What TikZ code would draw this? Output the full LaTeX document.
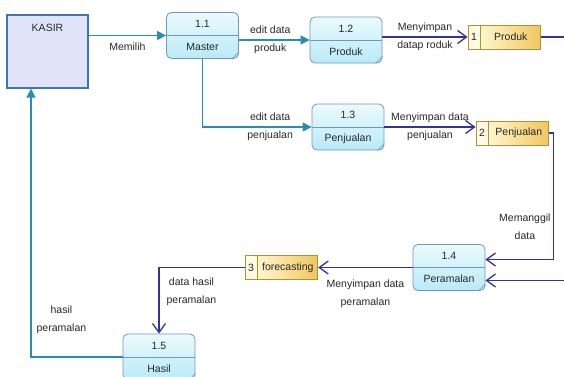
\documentclass[tikz,border=0pt]{standalone}
\usepackage{fontspec}
\setmainfont{Liberation Sans}
\usetikzlibrary{arrows.meta,positioning}

\definecolor{flowteal}{RGB}{40,140,180}
\definecolor{flownavy}{RGB}{50,50,160}
\definecolor{procline}{RGB}{115,150,190}
\definecolor{proctop}{RGB}{236,250,253}
\definecolor{procbot}{RGB}{184,234,248}
\definecolor{entfill}{RGB}{225,228,248}
\definecolor{entline}{RGB}{60,120,170}
\definecolor{storeL}{RGB}{255,246,205}
\definecolor{storeR}{RGB}{240,198,95}
\definecolor{storeline}{RGB}{175,145,55}
\definecolor{txt}{RGB}{40,40,40}

\tikzstyle{ent} = [rectangle, draw=entline, line width=1.3pt, fill=entfill,
    minimum width=81pt, minimum height=73pt]
\tikzstyle{proc} = [rectangle, draw=procline, line width=0.8pt, rounded corners=5pt,
    top color=proctop, bottom color=procbot, minimum width=72pt, minimum height=46pt,
    align=center, font=\fontsize{10.5}{23}\selectfont, text=txt]
\tikzstyle{storeid} = [rectangle, draw=storeline, line width=0.8pt, fill=storeL!60!white,
    minimum width=12pt, minimum height=24pt, inner sep=0pt, text=txt]
\tikzstyle{store} = [rectangle, draw=storeline, line width=0.8pt, left color=storeL,
    right color=storeR, minimum width=60pt, minimum height=24pt, inner sep=0pt, text=txt]
\tikzstyle{lbl} = [align=center, font=\fontsize{10.5}{18}\selectfont, text=txt, inner sep=2pt]
\tikzstyle{tealflow} = [draw=flowteal, line width=1.3pt, -{Triangle[length=9pt,width=9pt]}]
\tikzstyle{navyflow} = [draw=flownavy, line width=1.3pt, -{Straight Barb[length=9pt,width=13pt]}]

\begin{document}
\begin{tikzpicture}[x=1pt,y=-1pt,font=\fontsize{10.5}{12}\selectfont]
  \useasboundingbox[fill=white] (0,0) rectangle (564,376);

  \node[ent] (kasir) at (47.5,51.5) {};
  \node[text=txt] (kasirlbl) at (47.5,28) {KASIR};

  \node[proc] (p11) at (202.5,35.5) {1.1\\Master};
  \node[proc] (p12) at (346,40)     {1.2\\Produk};
  \node[proc] (p13) at (348,127)    {1.3\\Penjualan};
  \node[proc] (p14) at (449,267.5)  {1.4\\Peramalan};
  \node[proc] (p15) at (159,357)    {1.5\\Hasil};

  \foreach \p in {p11,p12,p13,p14,p15} {
    \draw[procline, line width=0.8pt] (\p.west) -- (\p.east);
    \draw[procline, line width=0.6pt] ([xshift=-7pt]\p.south east) -- ([yshift=7pt]\p.south east);
  }

  \node[storeid] (d1id) at (474,37)    {1};
  \node[store, right=0pt of d1id] (d1) {Produk};
  \node[storeid] (d2id) at (482,133)   {2};
  \node[store, right=0pt of d2id] (d2) {Penjualan};
  \node[storeid] (d3id) at (251,267.5) {3};
  \node[store, right=0pt of d3id] (d3) {forecasting};

  \coordinate (out1) at (566,37);
  \coordinate (in2) at (566,280.5);

  % flows
  \draw[tealflow] (kasir.east |- p11.west) -- node[lbl, below, yshift=-5pt] (lblpilih) {Memilih} (p11.west);
  \draw[tealflow] (p11.east |- p12.west) -- node[lbl, xshift=-4pt] (lbleditprod) {edit data\\produk} (p12.west);
  \draw[navyflow] (p12.east |- d1id.west) -- node[lbl] (lblsimprod) {Menyimpan\\datap roduk} (d1id.west);
  \draw[flownavy, line width=1.3pt] (d1.east) -- (out1);

  \draw[tealflow] (p11.south) |- node[lbl, pos=0.81] (lbleditjual) {edit data\\penjualan} (p13.west);
  \draw[navyflow] (p13.east) -- node[lbl] (lblsimjual) {Menyimpan data\\penjualan} (p13.east -| d2id.west);
  \draw[navyflow] (d2.east) -- ++(4,0) |- node[lbl, left, pos=0.37] (lblpanggil) {Memanggil\\data} ([yshift=8pt]p14.east);
  \draw[navyflow] (in2) -- ([yshift=-13pt]p14.east);

  \draw[navyflow] (p14.west) -- node[lbl, below, yshift=-10pt] (lblsimramal) {Menyimpan data\\peramalan} (d3.east);
  \draw[navyflow] (d3id.west) -| node[lbl, right, pos=0.68, xshift=5pt] (lblhasil) {data hasil\\peramalan} (p15.north);
  \draw[tealflow] (p15.west) -| node[lbl, right, pos=0.57, xshift=3pt] (lblhasilk) {hasil\\peramalan} ([xshift=-16.5pt]kasir.south);
\end{tikzpicture}
\end{document}
